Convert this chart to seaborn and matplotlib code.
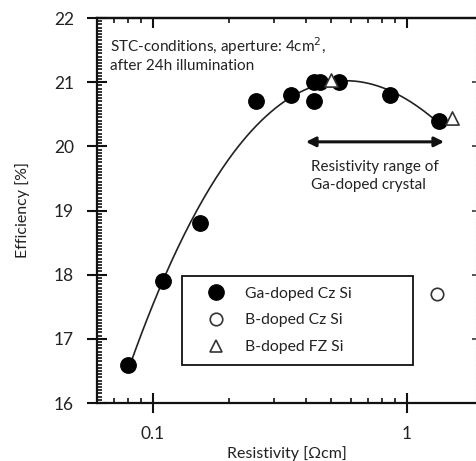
import numpy as np
import pandas as pd
import matplotlib
matplotlib.use("Agg")
import matplotlib.pyplot as plt
from matplotlib.lines import Line2D
from matplotlib.ticker import LogLocator, MultipleLocator, FixedLocator, NullFormatter, FuncFormatter
import seaborn as sns

# Measured cell efficiencies versus base resistivity
ga_cz_res = [0.08, 0.11, 0.153, 0.255, 0.35, 0.43, 0.43, 0.455, 0.54, 0.86, 1.34]
ga_cz_eff = [16.6, 17.9, 18.8, 20.7, 20.8, 21.0, 20.7, 21.0, 21.0, 20.8, 20.4]
b_cz_res = [1.31]
b_cz_eff = [17.7]
b_fz_res = [0.50, 1.50]
b_fz_eff = [21.03, 20.44]

labels = ["Ga-doped Cz Si", "B-doped Cz Si", "B-doped FZ Si"]
ga_range = [0.40, 1.40]

sns.set_theme(style="ticks")
plt.rcParams["font.family"] = ["Lato", "DejaVu Sans"]
plt.rcParams["text.color"] = "#222222"

df = pd.concat([
    pd.DataFrame({"res": ga_cz_res, "eff": ga_cz_eff, "sample": labels[0]}),
    pd.DataFrame({"res": b_cz_res, "eff": b_cz_eff, "sample": labels[1]}),
    pd.DataFrame({"res": b_fz_res, "eff": b_fz_eff, "sample": labels[2]}),
])

fig = plt.figure(figsize=(4.77, 4.61), dpi=100)
ax = fig.add_axes([97 / 477, 58 / 461, 379 / 477, 385 / 461])

# Polynomial fit (in log resistivity) through the Ga-doped data
lx = np.log10(ga_cz_res)
coef = np.polyfit(lx, ga_cz_eff, 3)
xf = np.linspace(lx.min(), lx.max(), 200)
fit = pd.DataFrame({"res": 10 ** xf, "eff": np.polyval(coef, xf)})
sns.lineplot(data=fit, x="res", y="eff", ax=ax, color="#222222", lw=1.2, legend=False)

sns.scatterplot(data=df[df["sample"] == labels[0]], x="res", y="eff", ax=ax,
                color="black", edgecolor="black", s=125, marker="o", legend=False, zorder=3)
sns.scatterplot(data=df[df["sample"] == labels[1]], x="res", y="eff", ax=ax,
                color="white", edgecolor="#333333", linewidth=1.2, s=80, marker="o",
                legend=False, zorder=3)
sns.scatterplot(data=df[df["sample"] == labels[2]], x="res", y="eff", ax=ax,
                color="white", edgecolor="#333333", linewidth=1.2, s=90, marker="^",
                legend=False, zorder=4)

ax.set_xscale("log")
ax.set_xlim(0.0602, 1.87)
ax.set_ylim(16, 22)

ax.xaxis.set_major_locator(FixedLocator([0.1, 1]))
ax.xaxis.set_major_formatter(FuncFormatter(lambda v, p: "0.1" if v < 0.5 else "1"))
ax.xaxis.set_minor_locator(LogLocator(base=10, subs=np.arange(2, 10) * 1.0, numticks=20))
ax.xaxis.set_minor_formatter(NullFormatter())
ax.yaxis.set_major_locator(MultipleLocator(1))
ax.yaxis.set_minor_locator(MultipleLocator(0.05))

for side in ["left", "bottom", "top"]:
    ax.spines[side].set_visible(True)
    ax.spines[side].set_color("#111111")
    ax.spines[side].set_linewidth(1.6)
ax.spines["right"].set_visible(False)

ax.tick_params(axis="both", which="both", bottom=True, left=True, top=False, right=False)
ax.tick_params(axis="both", which="major", direction="inout", length=14, width=1.5,
               color="#111111", pad=9.5, labelsize=12.5, labelcolor="#222222")
ax.tick_params(axis="both", which="minor", direction="in", length=3.8, width=1.2,
               color="#111111")

# Top axis ticks pointing inward
top = ax.secondary_xaxis("top")
top.xaxis.set_major_locator(FixedLocator([0.1, 1]))
top.xaxis.set_minor_locator(LogLocator(base=10, subs=np.arange(2, 10) * 1.0, numticks=20))
top.xaxis.set_major_formatter(NullFormatter())
top.xaxis.set_minor_formatter(NullFormatter())
top.tick_params(which="both", top=True, bottom=False)
top.tick_params(which="major", direction="in", length=7, width=1.5, color="#111111")
top.tick_params(which="minor", direction="in", length=3.8, width=1.2, color="#111111")
top.spines["top"].set_linewidth(1.6)
top.spines["top"].set_color("#111111")

# Faint right frame with short ticks
right = ax.secondary_yaxis("right")
right.yaxis.set_major_locator(MultipleLocator(1))
right.yaxis.set_major_formatter(NullFormatter())
right.tick_params(which="both", right=True, left=False)
right.tick_params(which="major", direction="in", length=3, width=1.2, color="#333333")
right.tick_params(which="minor", length=0)
right.spines["right"].set_color("#e4e4e4")
right.spines["right"].set_linewidth(1.0)
right.spines["right"].set_linestyle((0, (1, 2)))

ax.set_xlabel("Resistivity [Ωcm]", fontsize=11.5, labelpad=3, color="#222222")
ax.set_ylabel("Efficiency [%]", fontsize=11.5, labelpad=17, color="#222222")

ax.text(0.034, 0.906, "STC-conditions, aperture: 4cm$^2$,\nafter 24h illumination",
        transform=ax.transAxes, fontsize=11, va="center", ha="left", linespacing=1.25)

ax.annotate("", xy=(ga_range[1], 20.07), xytext=(ga_range[0], 20.07),
            arrowprops=dict(arrowstyle="<|-|>", lw=2.2, color="#111111",
                            mutation_scale=14, shrinkA=0, shrinkB=0))
ax.text(0.42, 19.54, "Resistivity range of\nGa-doped crystal", fontsize=11,
        va="center", ha="left", linespacing=1.3)

handles = [
    Line2D([], [], ls="none", marker="o", ms=11, mfc="black", mec="black"),
    Line2D([], [], ls="none", marker="o", ms=9, mfc="white", mec="#333333", mew=1.2),
    Line2D([], [], ls="none", marker="^", ms=9, mfc="white", mec="#333333", mew=1.2),
]
leg = ax.legend(handles, labels, loc="upper left",
                bbox_to_anchor=(0.224, 0.096, 0.610, 0.234), mode="expand",
                borderaxespad=0, frameon=True, fancybox=False, fontsize=11.3,
                handlelength=3.0, handletextpad=0.35, labelspacing=0.8,
                borderpad=0.7, framealpha=1)
leg.get_frame().set_edgecolor("#111111")
leg.get_frame().set_linewidth(1.3)

fig.savefig("out.png", dpi=100)
